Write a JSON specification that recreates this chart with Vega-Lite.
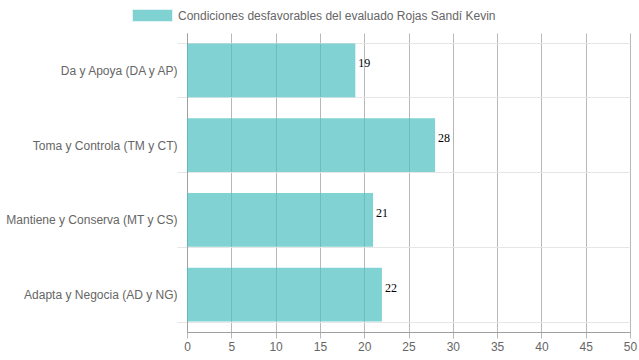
{
  "$schema": "https://vega.github.io/schema/vega-lite/v6.json",
  "autosize": "none",
  "width": 443,
  "height": 299,
  "padding": {"left": 187, "top": 33, "right": 9, "bottom": 28},
  "background": "white",
  "config": {
    "view": {"stroke": null},
    "font": "Liberation Sans",
    "axis": {"labelFont": "Liberation Sans", "labelFontSize": 12, "labelColor": "#666666", "titleFont": "Liberation Sans"}
  },
  "data": {
    "values": [
      {"factor": "Da y Apoya (DA y AP)", "valor": 19, "serie": "Condiciones desfavorables del evaluado Rojas Sandí Kevin"},
      {"factor": "Toma y Controla (TM y CT)", "valor": 28, "serie": "Condiciones desfavorables del evaluado Rojas Sandí Kevin"},
      {"factor": "Mantiene y Conserva (MT y CS)", "valor": 21, "serie": "Condiciones desfavorables del evaluado Rojas Sandí Kevin"},
      {"factor": "Adapta y Negocia (AD y NG)", "valor": 22, "serie": "Condiciones desfavorables del evaluado Rojas Sandí Kevin"}
    ]
  },
  "encoding": {
    "y": {
      "field": "factor", "type": "nominal", "sort": null,
      "scale": {"paddingInner": 0.28, "paddingOuter": 0.14},
      "axis": {
        "title": null, "tickBand": "extent", "grid": true, "gridColor": "#e6e6e6",
        "ticks": true, "tickColor": "#e6e6e6", "tickSize": 10,
        "domainColor": "#a0a0a0", "labelPadding": 0, "labelLimit": 200
      }
    },
    "x": {
      "field": "valor", "type": "quantitative",
      "scale": {"domain": [0, 50], "nice": false},
      "axis": {
        "title": null, "values": [0, 5, 10, 15, 20, 25, 30, 35, 40, 45, 50],
        "grid": true, "gridColor": "#b8b8b8", "tickColor": "#b8b8b8", "tickSize": 6,
        "domainColor": "#a0a0a0", "labelPadding": 3, "labelFlush": false
      }
    }
  },
  "layer": [
    {
      "mark": {"type": "bar", "fillOpacity": 0.7},
      "encoding": {
        "color": {
          "field": "serie", "type": "nominal",
          "scale": {"range": ["#4bc0c0"]},
          "legend": {
            "title": null, "orient": "none", "legendX": -55, "legendY": -38,
            "symbolType": "M-1,-0.3L1,-0.3L1,0.3L-1,0.3Z", "symbolSize": 1600,
            "symbolOpacity": 0.7, "symbolStrokeColor": "#d6efef", "symbolStrokeWidth": 1,
            "labelFont": "Liberation Sans", "labelFontSize": 12, "labelColor": "#666666",
            "labelLimit": 500, "labelOffset": 5
          }
        }
      }
    },
    {
      "mark": {"type": "text", "align": "left", "dx": 3, "dy": -7, "font": "Liberation Serif", "fontSize": 12, "color": "#000000"},
      "encoding": {"text": {"field": "valor", "type": "quantitative"}}
    }
  ]
}
